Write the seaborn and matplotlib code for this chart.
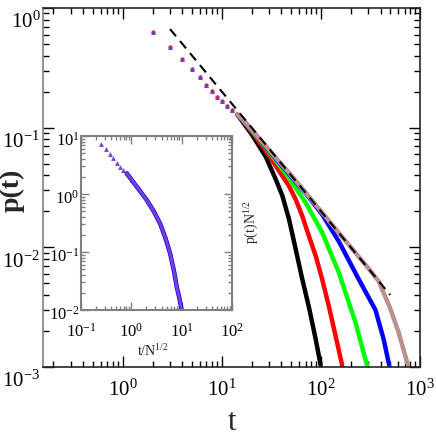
import numpy as np
import pandas as pd
import matplotlib
matplotlib.use("Agg")
import matplotlib.pyplot as plt
import matplotlib.transforms as mtransforms
from matplotlib.ticker import LogLocator, NullFormatter
import seaborn as sns

# shared head of all curves (small t)
head_t = [2, 3, 4, 5, 6, 7, 8, 9, 10, 11.4, 12.8, 14.4]
head_p = [0.635, 0.47, 0.373, 0.31, 0.266, 0.229, 0.201, 0.182, 0.166, 0.152, 0.140, 0.128]

# tails, one per system size
black_t = [14.4, 16.2, 20.4, 27.8, 35, 40.8, 47.7, 55.7, 64.9, 75.7, 88.5, 99.3]
black_p = [0.128, 0.112, 0.086, 0.057, 0.037, 0.027, 0.0171, 0.0096, 0.0054, 0.00316, 0.00171, 0.00104]
red_t = [14.4, 16.2, 20.4, 27.8, 35, 47.7, 55.7, 64.9, 75.7, 88.5, 103, 120, 140.6, 164]
red_p = [0.128, 0.115, 0.091, 0.064, 0.048, 0.0324, 0.0251, 0.0182, 0.0124, 0.0085, 0.0054, 0.00324, 0.00182, 0.00103]
green_t = [14.4, 16.2, 20.4, 27.8, 35, 47.7, 70.2, 103, 151.7, 223, 292]
green_p = [0.128, 0.116, 0.093, 0.068, 0.053, 0.0381, 0.0236, 0.0133, 0.00615, 0.00236, 0.00103]
blue_t = [14.4, 16.2, 20.4, 27.8, 35, 47.7, 70.2, 103, 151.7, 241, 355, 430, 488]
blue_p = [0.128, 0.117, 0.094, 0.069, 0.055, 0.041, 0.0283, 0.0188, 0.0112, 0.0054, 0.0030, 0.0017, 0.00104]
brown_t = [14.4, 16.2, 20.4, 27.8, 35, 47.7, 70.2, 103, 151.7, 223, 292, 383, 500, 608, 710, 753]
brown_p = [0.128, 0.117, 0.094, 0.07, 0.056, 0.0419, 0.0286, 0.0195, 0.0132, 0.0090, 0.0069, 0.0052, 0.0031, 0.00195, 0.00124, 0.00105]

# power-law guide
guide_t = [3, 500]
guide_p = [0.667, 0.004]

# inset: collapsed curve p(t)N^1/2 vs t/N^1/2
inset_u = [0.246, 0.314, 0.377, 0.439, 0.513, 0.596, 0.693, 0.81, 1.02, 1.4, 2.02, 2.8, 3.72, 4.7, 5.88, 7.0, 8.0, 9.0, 10.0]
inset_v = [7.28, 5.9, 4.9, 4.13, 3.47, 2.96, 2.59, 2.27, 1.74, 1.21, 0.79, 0.5, 0.31, 0.18, 0.095, 0.048, 0.025, 0.016, 0.01]

series = [("black", black_t, black_p), ("#ff0000", red_t, red_p), ("#00ff00", green_t, green_p),
          ("#0000ff", blue_t, blue_p), ("#bc8f8f", brown_t, brown_p)]

sns.set_style("ticks")
plt.rcParams["font.family"] = ["Liberation Serif", "DejaVu Serif"]
plt.rcParams["mathtext.fontset"] = "custom"
plt.rcParams["mathtext.rm"] = "Liberation Serif"
plt.rcParams["mathtext.it"] = "Liberation Serif:italic"
plt.rcParams["mathtext.bf"] = "Liberation Serif:bold"
plt.rcParams["axes.unicode_minus"] = False

fig = plt.figure(figsize=(4.36, 4.36), dpi=100)
ax = fig.add_axes([0.0986, 0.1583, 0.8647, 0.8234])

for color, t, p in series:
    df = pd.DataFrame({"t": t, "p": p})
    sns.lineplot(data=df, x="t", y="p", ax=ax, color=color, lw=3.2, sort=False)

head = pd.DataFrame({"t": head_t, "p": head_p})
sns.scatterplot(data=head, x="t", y="p", ax=ax, color="#ff3030", marker="o", s=10, linewidth=0)
sns.scatterplot(data=head, x="t", y="p", ax=ax, color="#6a3ad0", marker="^", s=12, linewidth=0)

guide = pd.DataFrame({"t": guide_t, "p": guide_p})
sns.lineplot(data=guide, x="t", y="p", ax=ax, color="black", lw=1.5, linestyle=(0, (4.5, 3)))

ax.set_xscale("log")
ax.set_yscale("log")
ax.set_xlim(10 ** -0.805, 1000)
ax.set_ylim(1e-3, 1)
ax.xaxis.set_major_locator(LogLocator(base=10, numticks=10))
ax.xaxis.set_minor_locator(LogLocator(base=10, subs=np.arange(2, 10), numticks=20))
ax.yaxis.set_minor_locator(LogLocator(base=10, subs=np.arange(2, 10), numticks=20))
ax.xaxis.set_minor_formatter(NullFormatter())
ax.yaxis.set_minor_formatter(NullFormatter())
ax.tick_params(which="both", direction="in", top=True, right=True, labelsize=15, colors="black")
ax.tick_params(which="major", length=8, width=1)
ax.tick_params(which="minor", length=4, width=1)
ax.tick_params(axis="x", pad=9)
ax.tick_params(axis="y", pad=2)
for s in ax.spines.values():
    s.set_linewidth(1.2)
ax.spines["left"].set_color("#808080")

ax.set_xlabel("t", fontsize=22)
ax.set_ylabel("p(t)", fontsize=20, fontweight="bold")
ax.xaxis.set_label_coords(0.501, -0.115)
ax.yaxis.set_label_coords(-0.05, 0.493)

off = mtransforms.ScaledTranslation(0, -0.12, fig.dpi_scale_trans)
for lab in ax.get_yticklabels():
    lab.set_transform(lab.get_transform() + off)

# inset
axi = fig.add_axes([0.1858, 0.289, 0.3463, 0.399])
inset = pd.DataFrame({"u": inset_u, "v": inset_v})
tail = inset.iloc[7:]
sns.lineplot(data=tail, x="u", y="v", ax=axi, color="#0000ff", lw=3.2, sort=False)
sns.lineplot(data=tail, x="u", y="v", ax=axi, color="#7a3fd0", lw=2.2, sort=False)
sns.scatterplot(data=inset.iloc[:9], x="u", y="v", ax=axi, color="#7a3fd0", marker="^", s=12, linewidth=0)
axi.set_xscale("log")
axi.set_yscale("log")
axi.set_xlim(0.1, 100)
axi.set_ylim(0.01, 10)
axi.xaxis.set_minor_locator(LogLocator(base=10, subs=np.arange(2, 10), numticks=20))
axi.yaxis.set_minor_locator(LogLocator(base=10, subs=np.arange(2, 10), numticks=20))
axi.xaxis.set_minor_formatter(NullFormatter())
axi.yaxis.set_minor_formatter(NullFormatter())
axi.tick_params(which="both", direction="in", top=True, right=True, labelsize=12, colors="black")
axi.tick_params(which="major", length=6, width=1, color="#808080")
axi.tick_params(which="minor", length=3, width=1, color="#808080")
axi.tick_params(axis="x", pad=9)
axi.tick_params(axis="y", pad=1)
for s in axi.spines.values():
    s.set_color("#808080")
    s.set_linewidth(1.5)
axi.set_xlabel("t/N$^{1/2}$", fontsize=10)
axi.set_ylabel("p(t)N$^{1/2}$", fontsize=10)
axi.xaxis.set_label_coords(0.477, -0.19)
axi.yaxis.set_label_position("right")
axi.yaxis.set_label_coords(1.073, 0.506)
offi = mtransforms.ScaledTranslation(0, -0.03, fig.dpi_scale_trans)
for lab in axi.get_yticklabels():
    lab.set_transform(lab.get_transform() + offi)

fig.savefig("out.png", dpi=100)
